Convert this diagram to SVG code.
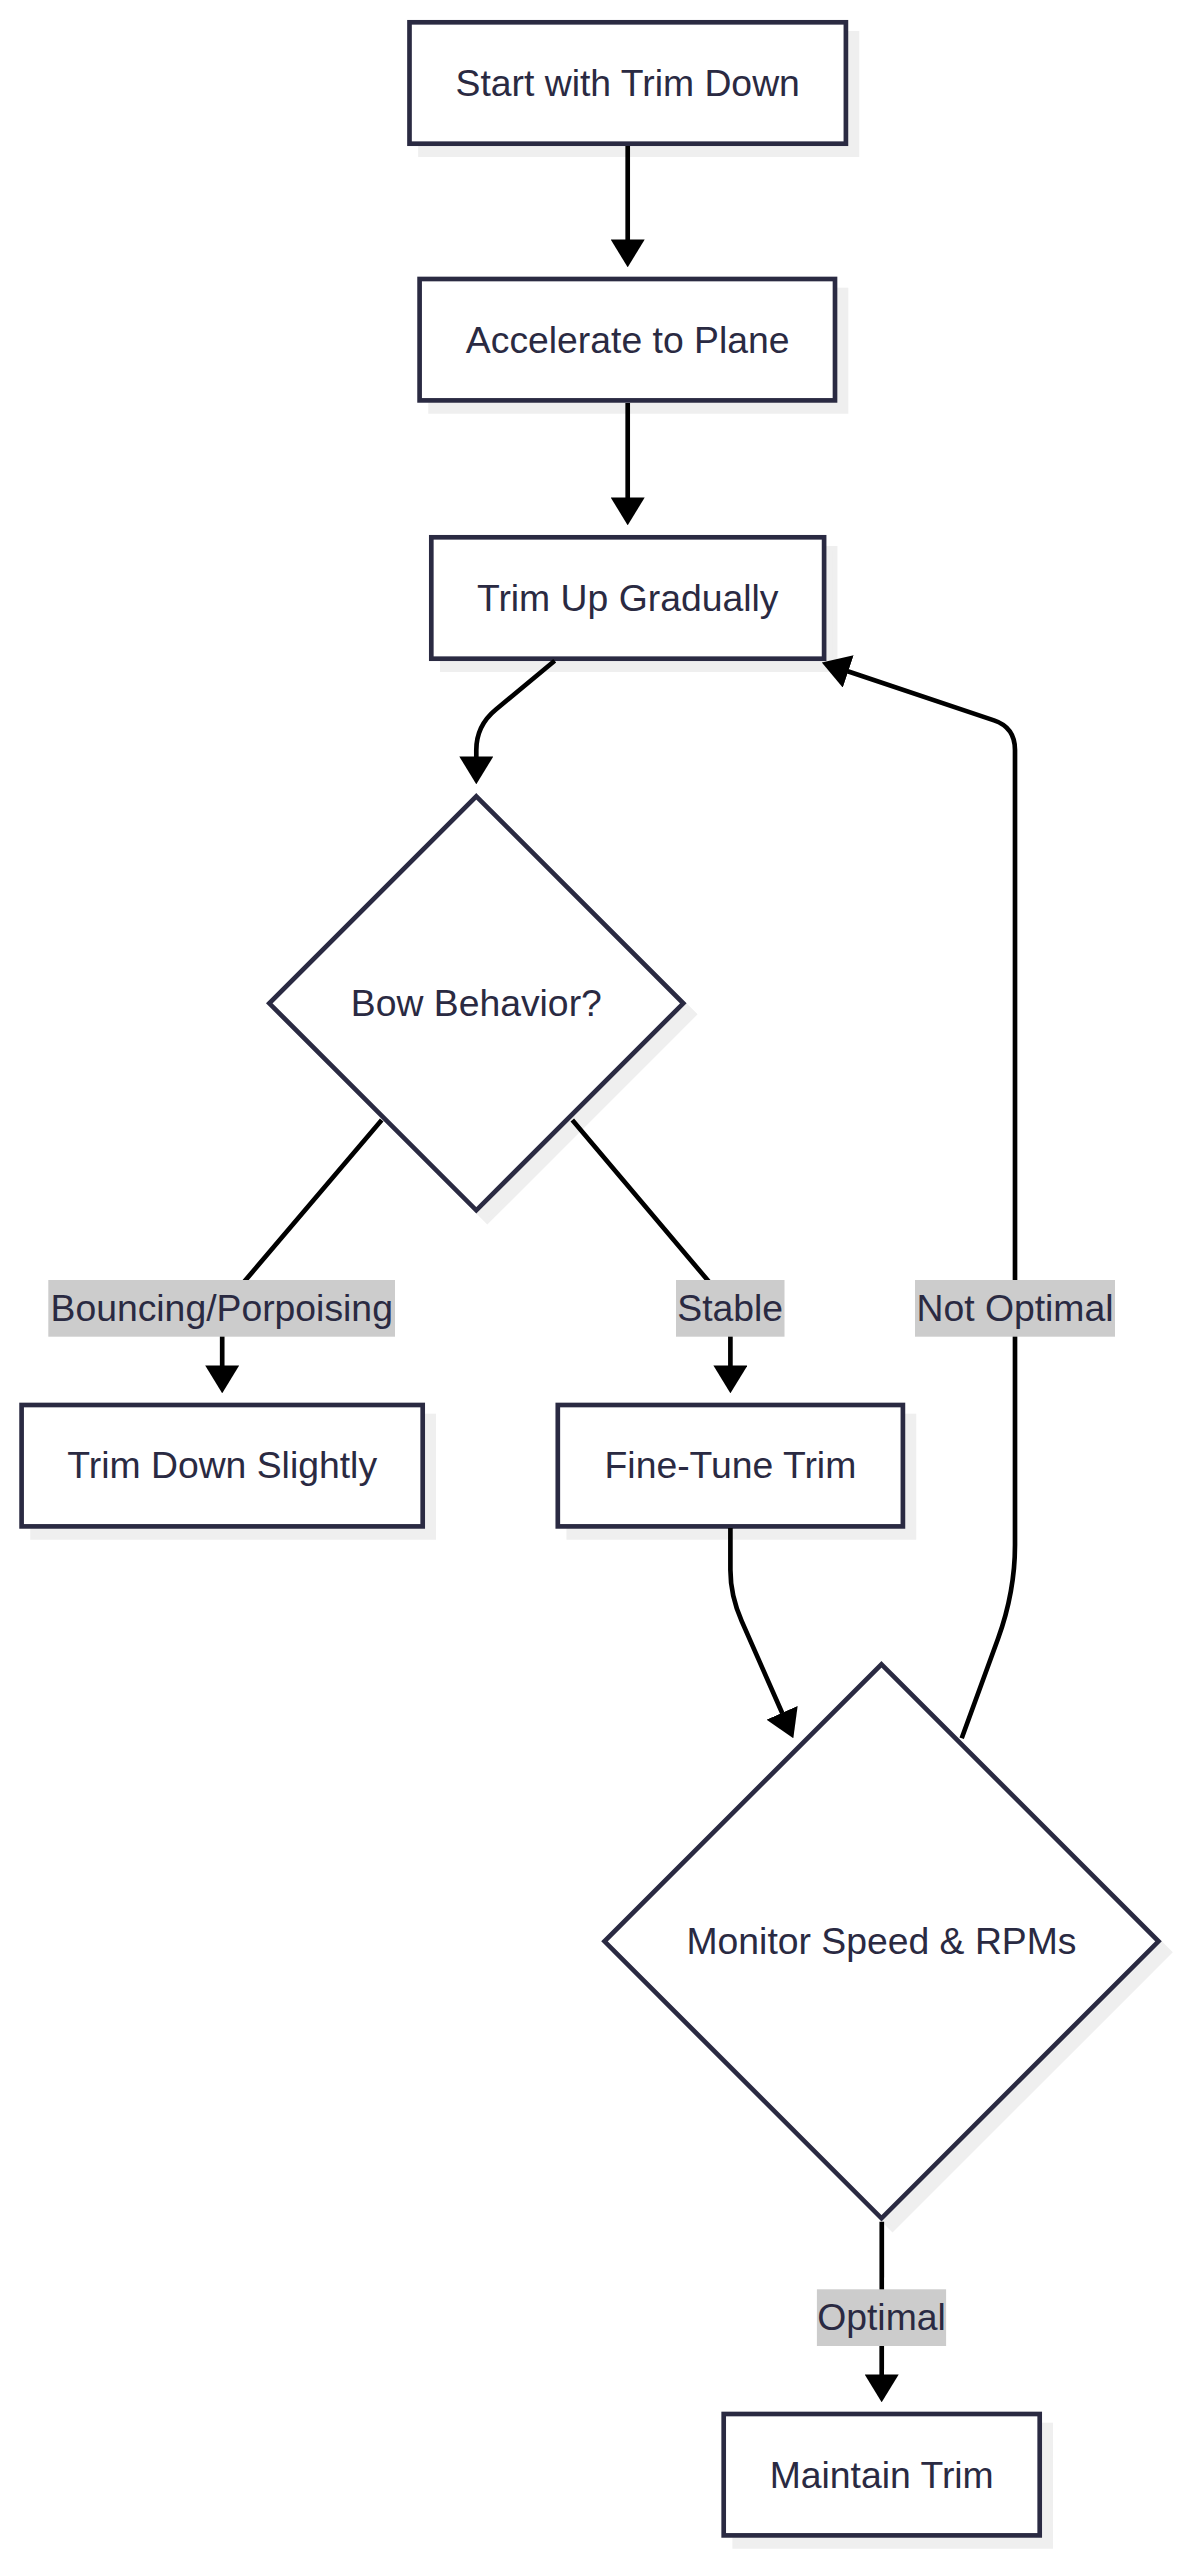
<svg xmlns="http://www.w3.org/2000/svg" width="1183" height="2560" viewBox="0 0 1183 2560">
<style>
.bg{fill:#ffffff}
.shadow{fill:#efefef;stroke:#efefef;stroke-width:4.67}
.box{fill:#ffffff;stroke:#2a2a42;stroke-width:4.67}
.t{font-family:"Liberation Sans",Arial,sans-serif;font-size:37.33px;fill:#2a2a42;text-anchor:middle}
.edge{fill:none;stroke:#000000;stroke-width:4.67}
.lbl{fill:#cccccc}
</style>
<defs>
<marker id="ah" markerUnits="userSpaceOnUse" markerWidth="28" markerHeight="34" viewBox="0 0 27 33" refX="0.5" refY="16.5" orient="auto">
<path d="M0,0 L27,16.5 L0,33 z" fill="#000000"/>
</marker>
</defs>
<rect class="bg" x="0" y="0" width="1183" height="2560"/>
<g id="nodes">
<g id="start">
<rect class="shadow" x="420.5" y="33.3" width="436.4" height="121.4"/>
<rect class="box" x="409.5" y="22.3" width="436.4" height="121.4"/>
<text class="t" x="627.7" y="95.9">Start with Trim Down</text>
</g>
<g id="accelerate">
<rect class="shadow" x="430.6" y="290" width="415.4" height="121.4"/>
<rect class="box" x="419.6" y="279" width="415.4" height="121.4"/>
<text class="t" x="627.7" y="352.9">Accelerate to Plane</text>
</g>
<g id="trimup">
<rect class="shadow" x="442.3" y="548.3" width="392.8" height="121.4"/>
<rect class="box" x="431.3" y="537.3" width="392.8" height="121.4"/>
<text class="t" x="627.7" y="610.7">Trim Up Gradually</text>
</g>
<g id="bow">
<polygon class="shadow" points="487.3,807.3 694.3,1014.3 487.3,1221.3 280.3,1014.3"/>
<polygon class="box" points="476.3,796.3 683.3,1003.3 476.3,1210.3 269.3,1003.3"/>
<text class="t" x="476.3" y="1016.2">Bow Behavior?</text>
</g>
<g id="trimdown">
<rect class="shadow" x="32.6" y="1416" width="401.1" height="121.4"/>
<rect class="box" x="21.6" y="1405" width="401.1" height="121.4"/>
<text class="t" x="222.2" y="1478.4">Trim Down Slightly</text>
</g>
<g id="finetune">
<rect class="shadow" x="568.8" y="1416" width="345.1" height="121.4"/>
<rect class="box" x="557.8" y="1405" width="345.1" height="121.4"/>
<text class="t" x="730.4" y="1478.4">Fine-Tune Trim</text>
</g>
<g id="monitor">
<polygon class="shadow" points="892.5,1675.3 1169.5,1952.3 892.5,2229.3 615.5,1952.3"/>
<polygon class="box" points="881.5,1664.3 1158.5,1941.3 881.5,2218.3 604.5,1941.3"/>
<text class="t" x="881.5" y="1954.2">Monitor Speed &amp; RPMs</text>
</g>
<g id="maintain">
<rect class="shadow" x="734.7" y="2425" width="316" height="121.4"/>
<rect class="box" x="723.7" y="2414" width="316" height="121.4"/>
<text class="t" x="881.7" y="2487.9">Maintain Trim</text>
</g>
</g>
<g id="connectors">
<path class="edge" marker-end="url(#ah)" d="M627.7,146 L627.7,240"/>
<path class="edge" marker-end="url(#ah)" d="M627.7,403 L627.7,498"/>
<path class="edge" marker-end="url(#ah)" d="M554.7,660.7 L495.6,709.7 Q476.3,725.7 476.3,750 L476.3,757"/>
<path class="edge" marker-end="url(#ah)" d="M381.7,1120 L232,1296 Q222.2,1308 222.2,1322 L222.2,1366"/>
<path class="edge" marker-end="url(#ah)" d="M572.3,1120 L721,1296 Q730.4,1308 730.4,1322 L730.4,1366"/>
<path class="edge" marker-end="url(#ah)" d="M730.4,1528 L730.4,1570 Q730.4,1595.5 741.7,1621.1 L782.3,1713.3"/>
<path class="edge" marker-end="url(#ah)" d="M961.7,1738.3 L998,1638.8 Q1015,1591.8 1015,1545 L1015,750 Q1015,727.4 994,720.4 L847.7,671.3"/>
<path class="edge" marker-end="url(#ah)" d="M881.8,2221.7 L881.7,2375"/>
<g id="labels">
<rect class="lbl" x="48.3" y="1280" width="346.7" height="56.7"/>
<text class="t" x="221.7" y="1321">Bouncing/Porpoising</text>
<rect class="lbl" x="676" y="1280" width="108.5" height="56.7"/>
<text class="t" x="730.2" y="1321">Stable</text>
<rect class="lbl" x="915" y="1280" width="200" height="56.7"/>
<text class="t" x="1015" y="1321">Not Optimal</text>
<rect class="lbl" x="816.9" y="2289.3" width="129.2" height="56.7"/>
<text class="t" x="881.5" y="2330.2">Optimal</text>
</g>
</g>
</svg>
